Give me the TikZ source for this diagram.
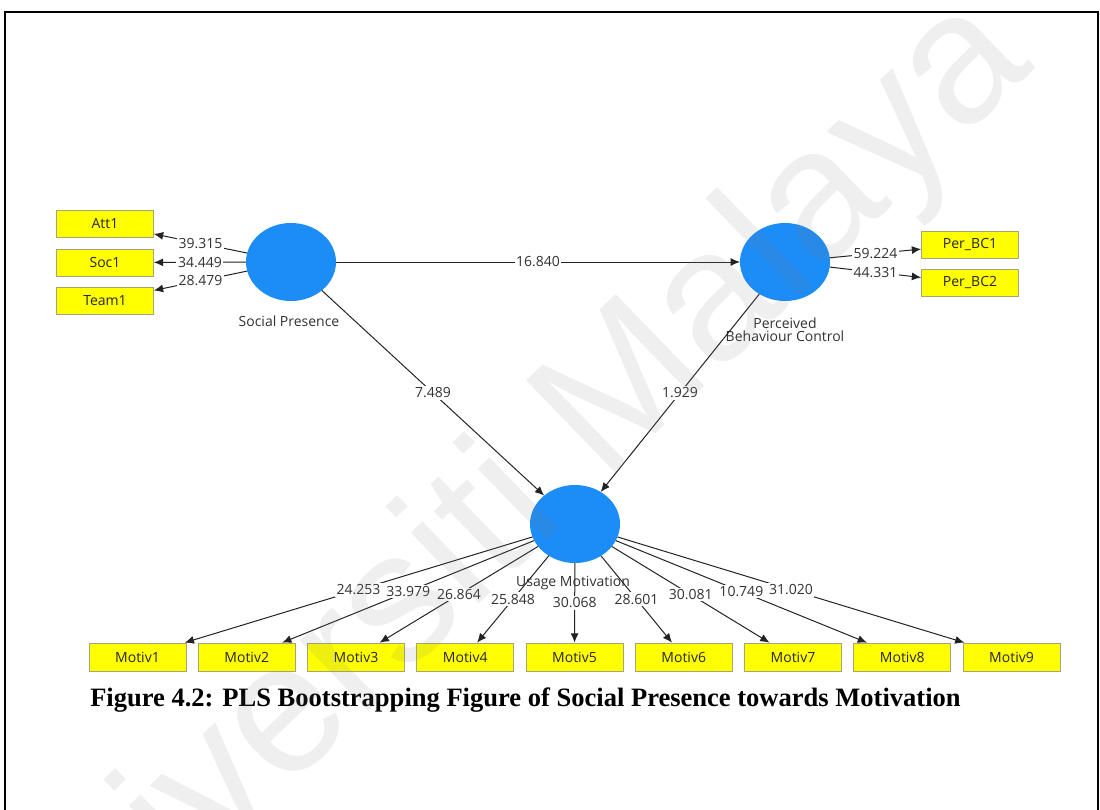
\documentclass[tikz,border=0pt]{standalone}
\usepackage{fontspec}
\setmainfont{Liberation Serif}
\newfontfamily\plsfont{Open Sans}
\newfontfamily\wmfont{Liberation Sans}
\usetikzlibrary{shapes.geometric,arrows.meta}

\definecolor{plsblue}{RGB}{28,140,246}
\definecolor{indyellow}{RGB}{255,255,0}
\definecolor{indedge}{RGB}{165,165,120}
\definecolor{linegray}{RGB}{35,35,35}
\definecolor{labeltext}{RGB}{50,50,50}

\begin{document}
\begin{tikzpicture}[x=0.75pt,y=-0.75pt,
  latent/.style={ellipse, fill=plsblue, minimum width=67.5pt, minimum height=58.5pt,
                 inner sep=0pt, outer sep=0pt},
  indicator/.style={rectangle, fill=indyellow, draw=indedge, line width=0.5pt,
                    minimum width=72.75pt, minimum height=20.5pt, inner sep=0pt,
                    font=\plsfont\fontsize{10.5}{12}\selectfont, text=black!85},
  lvname/.style={font=\plsfont\fontsize{10.5}{12}\selectfont, text=labeltext, align=center},
  link/.style={draw=linegray, line width=0.75pt, -{Latex[length=7pt,width=6pt]}},
  coef/.style={fill=white, inner sep=1.2pt, font=\plsfont\fontsize{10.5}{12}\selectfont,
               text=labeltext},
]
\useasboundingbox (0,0) rectangle (1100,810);

% page frame
\draw[line width=1.5pt] (5,812) -- (5,12) -- (1098,12) -- (1098,812);

% latent variables
\node[latent] (sp)  at (291,262) {};
\node[latent] (pbc) at (785,262) {};
\node[latent] (um)  at (575,524) {};

\node[lvname] (spname)  at (289,321) {Social Presence};
\node[lvname] (pbcname) at (785,330) {Perceived\\[-2.2pt]Behaviour Control};
\node[lvname] (umname)  at (573,583) {Usage Motivation};

% indicators
\node[indicator] (att1)  at (105,224)   {Att1};
\node[indicator] (soc1)  at (105,262.5) {Soc1};
\node[indicator] (team1) at (105,300.5) {Team1};
\node[indicator] (pbc1)  at (970,244.5) {Per\_BC1};
\node[indicator] (pbc2)  at (970,283)   {Per\_BC2};
\foreach \i in {1,...,9}{
  \node[indicator, minimum height=21pt] (m\i) at ({137.5+109.25*(\i-1)},657) {Motiv\i};
}

% structural and measurement paths
\draw[link] (sp) -- (pbc);
\draw[link] (sp) -- (um);
\draw[link] (pbc) -- (um);
\foreach \t in {att1,soc1,team1}{ \draw[link] (sp) -- (\t); }
\foreach \t in {pbc1,pbc2}{ \draw[link] (pbc) -- (\t); }
\foreach \i in {1,...,9}{ \draw[link] (um) -- (m\i); }

% bootstrap t-values
\path (sp) -- (pbc) node[coef, midway] {16.840};
\path (sp) -- (um) node[coef, midway] {7.489};
\path (pbc) -- (um) node[coef, midway] {1.929};
\path (sp) -- (att1) node[coef, midway] {39.315};
\path (sp) -- (soc1) node[coef, midway] {34.449};
\path (sp) -- (team1) node[coef, midway] {28.479};
\path (pbc) -- (pbc1) node[coef, midway] {59.224};
\path (pbc) -- (pbc2) node[coef, midway] {44.331};
\foreach \i/\v in {1/24.253,2/33.979,3/26.864,4/25.848,5/30.068,6/28.601,7/30.081,8/10.749,9/31.020}{
  \path (um) -- (m\i) node[coef, midway] {\v};
}

% caption
\node[anchor=base west, inner sep=0pt, font=\bfseries\fontsize{19.9}{24}\selectfont]
  (caption) at (90,706) {Figure 4.2: PLS Bootstrapping Figure of Social Presence towards Motivation};

% watermark
\node[anchor=base west, inner sep=0pt, rotate=44, text=black!50, text opacity=0.13,
      font=\wmfont\fontsize{139.5}{140}\selectfont] (wm) at (17,1051) {Universiti Malaya};
\end{tikzpicture}
\end{document}
